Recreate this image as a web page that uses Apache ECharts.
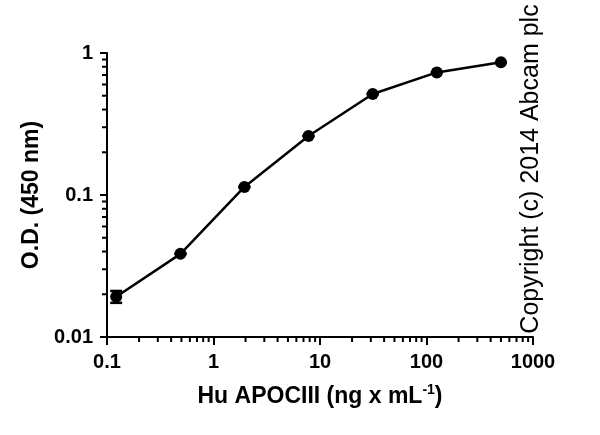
<!DOCTYPE html>
<html>
<head>
<meta charset="utf-8">
<script src="https://cdn.jsdelivr.net/npm/echarts@6/dist/echarts.min.js"></script>
<style>
html,body{margin:0;padding:0;background:#fff;}
#chart{width:600px;height:435px;}
</style>
</head>
<body>
<div id="chart"></div>
<script>
// Data
const concentrations = [0.122, 0.49, 1.95, 7.8, 31.25, 125, 500];
const odValues = [0.0192, 0.0385, 0.114, 0.26, 0.514, 0.73, 0.86];
const odLow = [0.0174, 0.0385, 0.114, 0.26, 0.514, 0.73, 0.86];
const odHigh = [0.0211, 0.0385, 0.114, 0.26, 0.514, 0.73, 0.86];
const xTickLabels = ['0.1', '1', '10', '100', '1000'];
const yTickLabels = ['0.01', '0.1', '1'];
const xMinorTicks = [0.2,0.3,0.4,0.5,0.6,0.7,0.8,0.9,2,3,4,5,6,7,8,9,20,30,40,50,60,70,80,90,200,300,400,500,600,700,800,900];
const yMinorTicks = [0.02,0.03,0.04,0.05,0.06,0.07,0.08,0.09,0.2,0.3,0.4,0.5,0.6,0.7,0.8,0.9];

const FONT = 'Arial, "Liberation Sans", Helvetica, sans-serif';
const chart = echarts.init(document.getElementById('chart'), null, {renderer: 'canvas'});

const X_MIN = 0.1, X_MAX = 1000, Y_MIN = 0.01, Y_MAX = 1;

const option = {
  backgroundColor: '#ffffff',
  animation: false,
  grid: {left: 107, right: 67, top: 53, bottom: 98, containLabel: false},
  xAxis: {
    type: 'log', logBase: 10, min: X_MIN, max: X_MAX,
    name: 'Hu APOCIII (ng x mL{sup|-1})',
    nameLocation: 'middle', nameGap: 46,
    nameTextStyle: {
      fontFamily: FONT, fontWeight: 'bold', fontSize: 23, color: '#000', lineHeight: 28,
      rich: {sup: {fontFamily: FONT, fontWeight: 'bold', fontSize: 14, color: '#000', verticalAlign: 'top', lineHeight: 14}}
    },
    axisLine: {show: true, lineStyle: {color: '#000', width: 2}},
    axisTick: {show: true, inside: false, length: 8, lineStyle: {color: '#000', width: 2}},
    axisLabel: {
      show: true, margin: 15, color: '#000', fontFamily: FONT, fontWeight: 'bold', fontSize: 20,
      formatter: function (v) {
        const i = Math.round(Math.log10(v) - Math.log10(X_MIN));
        return xTickLabels[i] !== undefined ? xTickLabels[i] : '';
      }
    },
    splitLine: {show: false}
  },
  yAxis: {
    type: 'log', logBase: 10, min: Y_MIN, max: Y_MAX,
    name: 'O.D. (450 nm)',
    nameLocation: 'middle', nameGap: 62, nameRotate: 90,
    nameTextStyle: {fontFamily: FONT, fontWeight: 'bold', fontSize: 23, color: '#000'},
    axisLine: {show: true, lineStyle: {color: '#000', width: 2}},
    axisTick: {show: true, inside: false, length: 7, lineStyle: {color: '#000', width: 2}},
    axisLabel: {
      show: true, margin: 14, color: '#000', fontFamily: FONT, fontWeight: 'bold', fontSize: 20,
      formatter: function (v) {
        const i = Math.round(Math.log10(v) - Math.log10(Y_MIN));
        return yTickLabels[i] !== undefined ? yTickLabels[i] : '';
      }
    },
    splitLine: {show: false}
  },
  series: [
    {
      type: 'custom',
      name: 'errors',
      silent: true,
      data: concentrations.map((c, i) => [c, odLow[i], odHigh[i]]),
      encode: {x: 0, y: [1, 2]},
      renderItem: function (params, api) {
        const lo = api.coord([api.value(0), api.value(1)]);
        const hi = api.coord([api.value(0), api.value(2)]);
        const w = 6;
        return {
          type: 'group',
          children: [
            {type: 'line', shape: {x1: lo[0], y1: lo[1], x2: hi[0], y2: hi[1]}, style: {stroke: '#000', lineWidth: 2}},
            {type: 'line', shape: {x1: lo[0] - w, y1: lo[1], x2: lo[0] + w, y2: lo[1]}, style: {stroke: '#000', lineWidth: 2.5}},
            {type: 'line', shape: {x1: hi[0] - w, y1: hi[1], x2: hi[0] + w, y2: hi[1]}, style: {stroke: '#000', lineWidth: 2.5}}
          ]
        };
      }
    },
    {
      type: 'line',
      name: 'OD',
      data: concentrations.map((c, i) => [c, odValues[i]]),
      symbol: 'circle',
      symbolSize: 12,
      itemStyle: {color: '#000'},
      lineStyle: {color: '#000', width: 2.5},
      z: 5
    }
  ]
};
chart.setOption(option);

// Copyright text and minor ticks placed through the chart's own log scales
const gs = [{
  type: 'text',
  x: 531, y: 169,
  rotation: Math.PI / 2,
  style: {
    text: 'Copyright (c) 2014 Abcam plc',
    font: '25px ' + FONT,
    fill: '#000',
    align: 'center',
    verticalAlign: 'middle'
  },
  z: 100
}];
xMinorTicks.forEach(function (v) {
  const p = chart.convertToPixel({xAxisIndex: 0, yAxisIndex: 0}, [v, Y_MIN]);
  gs.push({type: 'line', shape: {x1: p[0], y1: p[1], x2: p[0], y2: p[1] + 5}, style: {stroke: '#000', lineWidth: 2}, z: 100});
});
yMinorTicks.forEach(function (v) {
  const p = chart.convertToPixel({xAxisIndex: 0, yAxisIndex: 0}, [X_MIN, v]);
  gs.push({type: 'line', shape: {x1: p[0], y1: p[1], x2: p[0] - 5, y2: p[1]}, style: {stroke: '#000', lineWidth: 2}, z: 100});
});
chart.setOption({graphic: gs});
</script>
</body>
</html>
